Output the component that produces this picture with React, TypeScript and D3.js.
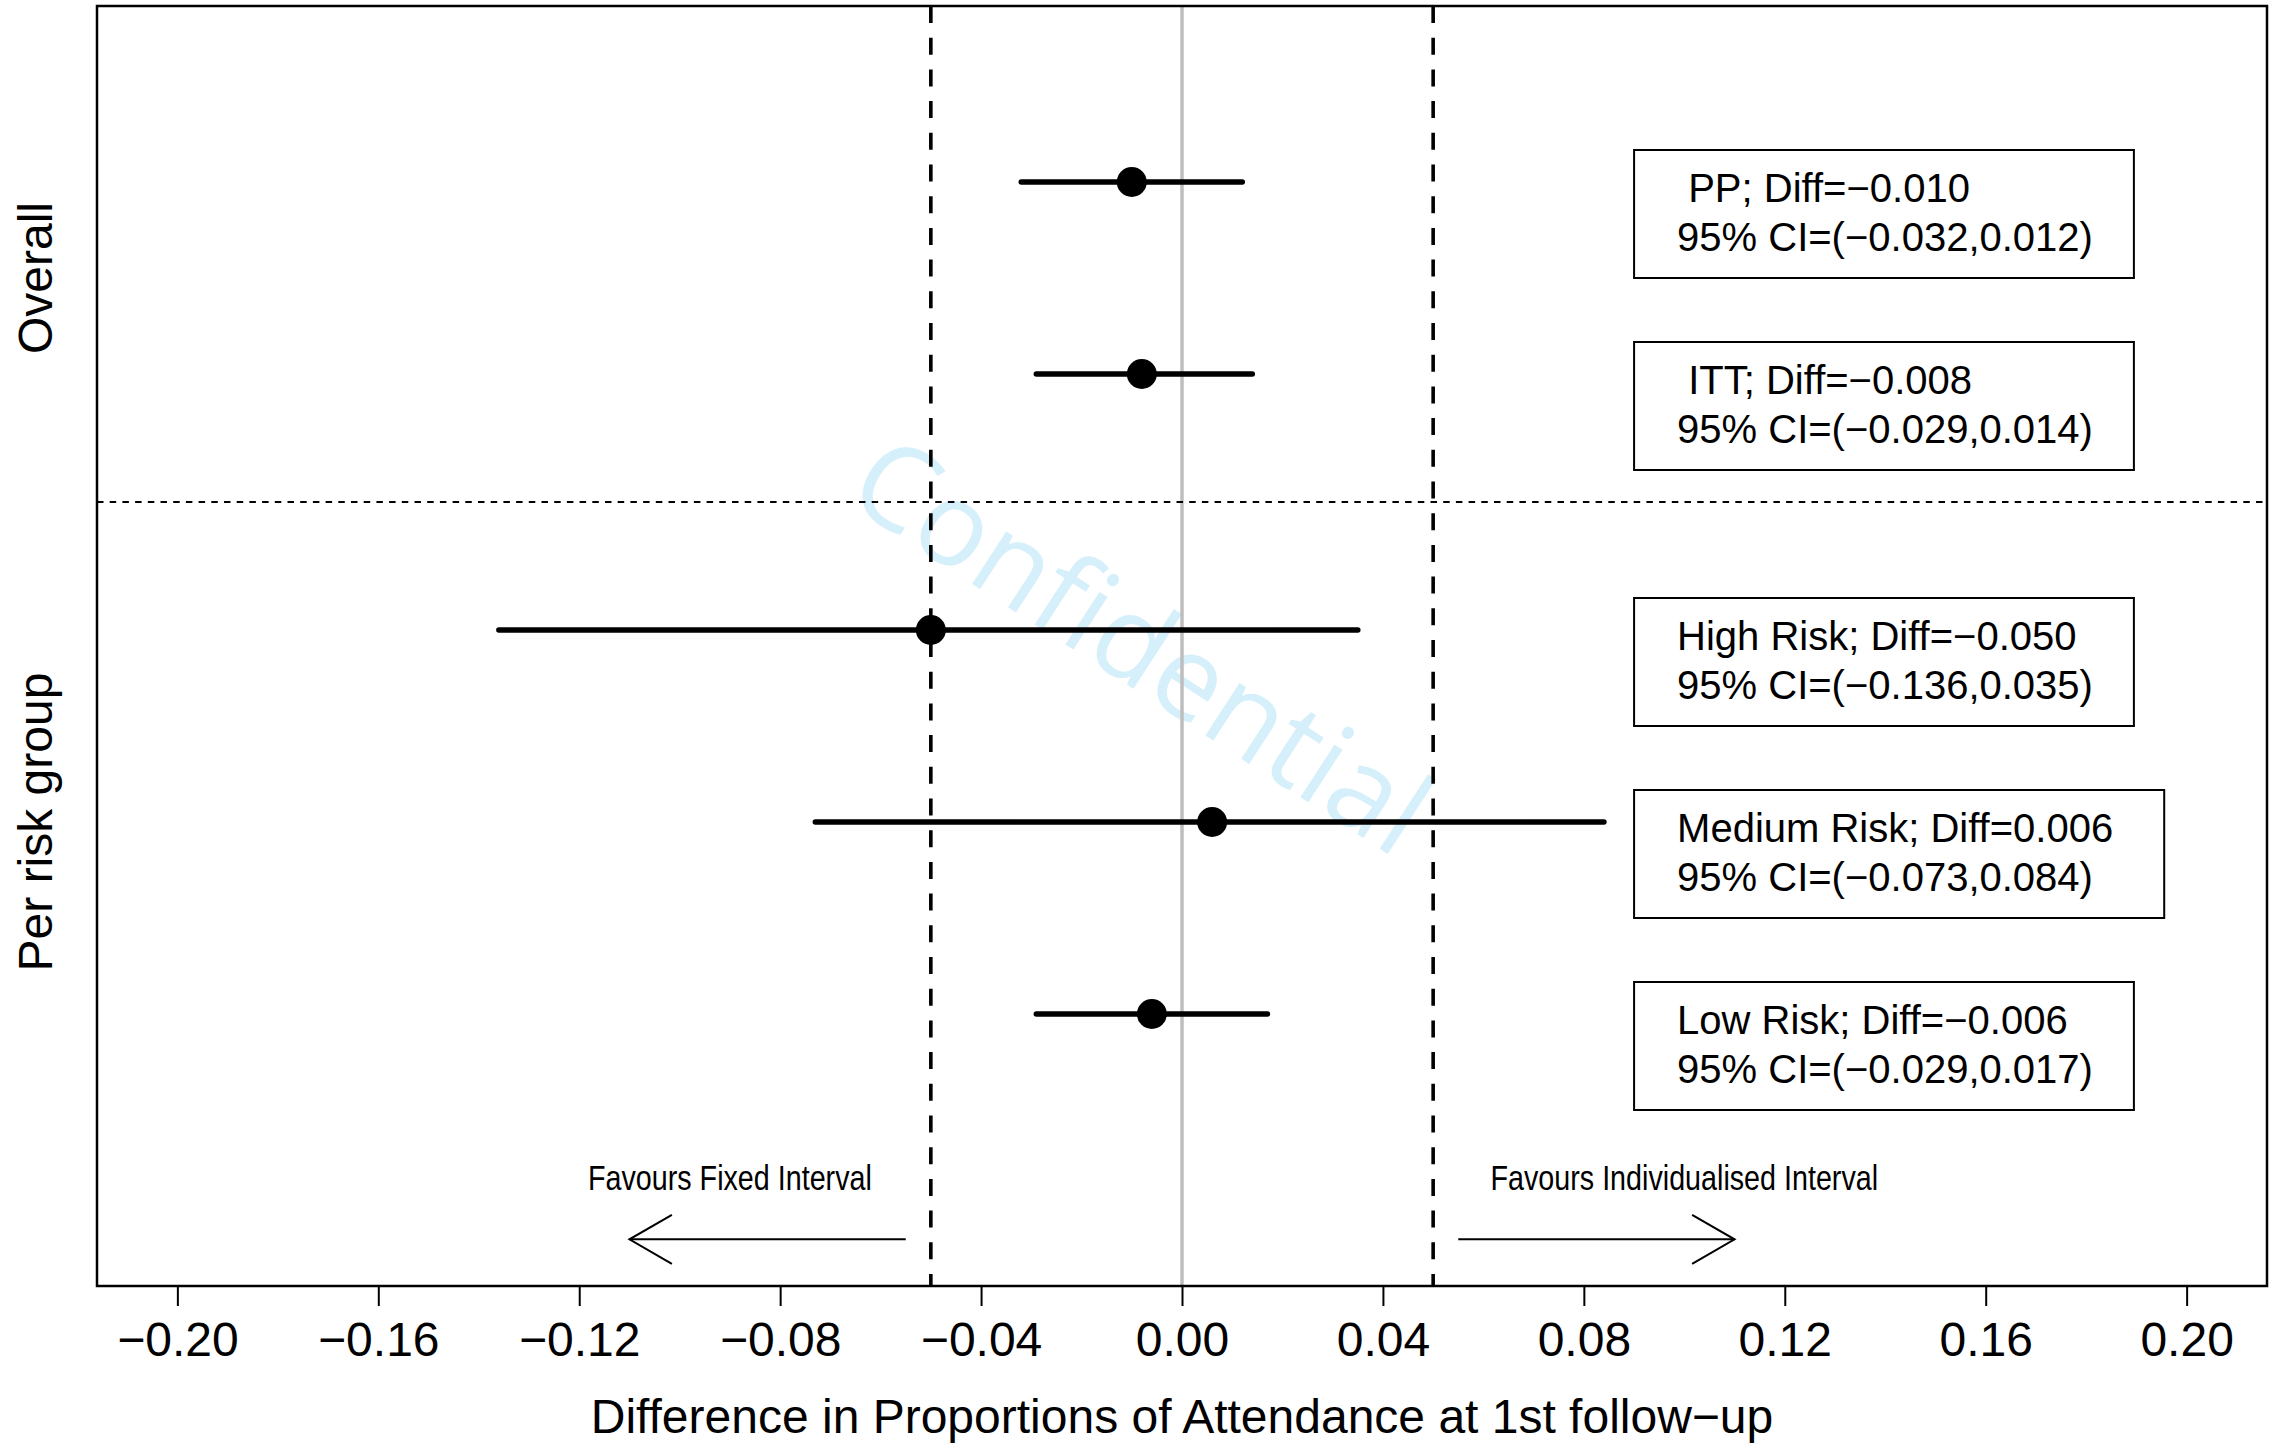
import React, { useRef, useEffect } from 'react';
import * as d3 from 'd3';

// Forest plot data
const groupLabels = [' PP', ' ITT', 'High Risk', 'Medium Risk', 'Low Risk'];
const diffs = [-0.010, -0.008, -0.050, 0.006, -0.006];
const ciLower = [-0.032, -0.029, -0.136, -0.073, -0.029];
const ciUpper = [0.012, 0.014, 0.035, 0.084, 0.017];
const rowPos = [2.75, 5.75, 9.75, 12.75, 15.75];
const xTicks = [-0.2, -0.16, -0.12, -0.08, -0.04, 0, 0.04, 0.08, 0.12, 0.16, 0.2];
const marginLines = [-0.05, 0.05];
const sectionLabels = ['Overall', 'Per risk group'];
const sectionPos = [4.25, 12.75];
const favourLabels = ['Favours Fixed Interval', 'Favours Individualised Interval'];
const favourPos = [-0.09, 0.1];
const arrowFrom = [-0.055, 0.055];
const arrowTo = [-0.11, 0.11];

const W = 2280;
const H = 1444;
const FONT = "'Liberation Sans', Arial, Helvetica, sans-serif";

const App = () => {
  const ref = useRef(null);

  useEffect(() => {
    const svg = d3.select(ref.current);
    svg.selectAll('*').remove();

    const x = d3.scaleLinear().domain([-0.216, 0.216]).range([97, 2267]);
    const y = d3.scaleLinear().domain([0, 20]).range([6, 1286]);
    const [x0, x1] = x.range();
    const [y0, y1] = y.range();
    const fmt = d3.format('.3f');

    // watermark (drawn first, sits behind everything)
    const wx = x(-0.0075);
    const wy = y(9.93);
    svg.append('text')
      .attr('x', wx)
      .attr('y', wy)
      .attr('transform', `rotate(33, ${wx}, ${wy})`)
      .attr('text-anchor', 'middle')
      .attr('dominant-baseline', 'central')
      .attr('font-family', "'Open Sans', 'Noto Sans', sans-serif")
      .attr('font-size', 117)
      .attr('fill', '#d5effb')
      .text('Confidential');

    // zero line
    svg.append('line')
      .attr('x1', x(0)).attr('x2', x(0))
      .attr('y1', y0).attr('y2', y1)
      .attr('stroke', '#bebebe')
      .attr('stroke-width', 3.5);

    // non-inferiority margins
    marginLines.forEach(v => {
      svg.append('line')
        .attr('x1', x(v)).attr('x2', x(v))
        .attr('y1', y0).attr('y2', y1)
        .attr('stroke', '#000')
        .attr('stroke-width', 3.6)
        .attr('stroke-dasharray', '17,14.7');
    });

    // divider between sections
    svg.append('line')
      .attr('x1', x0).attr('x2', x1)
      .attr('y1', y(7.75)).attr('y2', y(7.75))
      .attr('stroke', '#000')
      .attr('stroke-width', 2)
      .attr('stroke-dasharray', '6.5,6.2');

    // CI segments and points
    groupLabels.forEach((g, i) => {
      svg.append('line')
        .attr('x1', x(ciLower[i])).attr('x2', x(ciUpper[i]))
        .attr('y1', y(rowPos[i])).attr('y2', y(rowPos[i]))
        .attr('stroke', '#000')
        .attr('stroke-width', 5.5)
        .attr('stroke-linecap', 'round');

      svg.append('circle')
        .attr('cx', x(diffs[i]))
        .attr('cy', y(rowPos[i]))
        .attr('r', 15)
        .attr('fill', '#000');
    });

    // legend boxes with estimates (box width measured like R's strwidth, hyphen for minus)
    groupLabels.forEach((g, i) => {
      const bx = x(0.09);
      const box = svg.append('g');
      const rect = box.append('rect')
        .attr('fill', '#fff')
        .attr('stroke', '#000')
        .attr('stroke-width', 2);
      const lines = [
        `${g}; Diff=${fmt(diffs[i])}`,
        `95% CI=(${fmt(ciLower[i])},${fmt(ciUpper[i])})`
      ];
      const offs = [20, 69];
      let maxW = 0;
      lines.forEach((t, j) => {
        box.append('text')
          .attr('x', bx + 43)
          .attr('y', y(rowPos[i]) + offs[j])
          .attr('font-family', FONT)
          .attr('font-size', 40)
          .attr('fill', '#000')
          .style('white-space', 'pre')
          .text(t);
        const probe = box.append('text')
          .attr('font-family', FONT)
          .attr('font-size', 40)
          .style('white-space', 'pre')
          .text(t.replace(/\u2212/g, '-'));
        maxW = Math.max(maxW, probe.node().getComputedTextLength());
        probe.remove();
      });
      rect
        .attr('x', bx)
        .attr('y', y(rowPos[i] - 0.5))
        .attr('width', 43 + maxW + 51)
        .attr('height', y(rowPos[i] + 1.5) - y(rowPos[i] - 0.5));
    });

    // favour annotations and arrows
    favourLabels.forEach((t, i) => {
      svg.append('text')
        .attr('transform', `translate(${x(favourPos[i])},${y(18.5)}) scale(0.82,1)`)
        .attr('text-anchor', 'middle')
        .attr('font-family', FONT)
        .attr('font-size', 35)
        .attr('fill', '#000')
        .text(t);

      const ay = y(19.27);
      const tip = x(arrowTo[i]);
      const dir = Math.sign(arrowTo[i] - arrowFrom[i]);
      const hl = 49;
      const hx = tip - dir * hl * Math.cos(Math.PI / 6);
      const hy = hl * Math.sin(Math.PI / 6);
      svg.append('line')
        .attr('x1', x(arrowFrom[i])).attr('x2', tip)
        .attr('y1', ay).attr('y2', ay)
        .attr('stroke', '#000')
        .attr('stroke-width', 2);
      svg.append('path')
        .attr('d', `M${hx},${ay - hy}L${tip},${ay}L${hx},${ay + hy}`)
        .attr('fill', 'none')
        .attr('stroke', '#000')
        .attr('stroke-width', 2);
    });

    // plot frame
    svg.append('rect')
      .attr('x', x0).attr('y', y0)
      .attr('width', x1 - x0).attr('height', y1 - y0)
      .attr('fill', 'none')
      .attr('stroke', '#000')
      .attr('stroke-width', 2.5);

    // x axis
    const axis = svg.append('g')
      .attr('transform', `translate(0,${y1})`)
      .call(d3.axisBottom(x)
        .tickValues(xTicks)
        .tickSize(20)
        .tickPadding(16)
        .tickFormat(d3.format('.2f')));
    axis.select('.domain').remove();
    axis.selectAll('.tick line').attr('stroke', '#000').attr('stroke-width', 2);
    axis.selectAll('.tick text')
      .attr('font-family', FONT)
      .attr('font-size', 48)
      .attr('fill', '#000');

    svg.append('text')
      .attr('x', (x0 + x1) / 2)
      .attr('y', 1433)
      .attr('text-anchor', 'middle')
      .attr('font-family', FONT)
      .attr('font-size', 48)
      .attr('fill', '#000')
      .text('Difference in Proportions of Attendance at 1st follow\u2212up');

    // section labels on the left
    sectionLabels.forEach((t, i) => {
      svg.append('text')
        .attr('transform', `translate(52,${y(sectionPos[i])}) rotate(-90)`)
        .attr('text-anchor', 'middle')
        .attr('font-family', FONT)
        .attr('font-size', 48)
        .attr('fill', '#000')
        .text(t);
    });
  }, []);

  return (
    <svg
      ref={ref}
      width={W}
      height={H}
      style={{ position: 'absolute', left: 0, top: 0, background: '#fff' }}
    />
  );
};

export default App;
